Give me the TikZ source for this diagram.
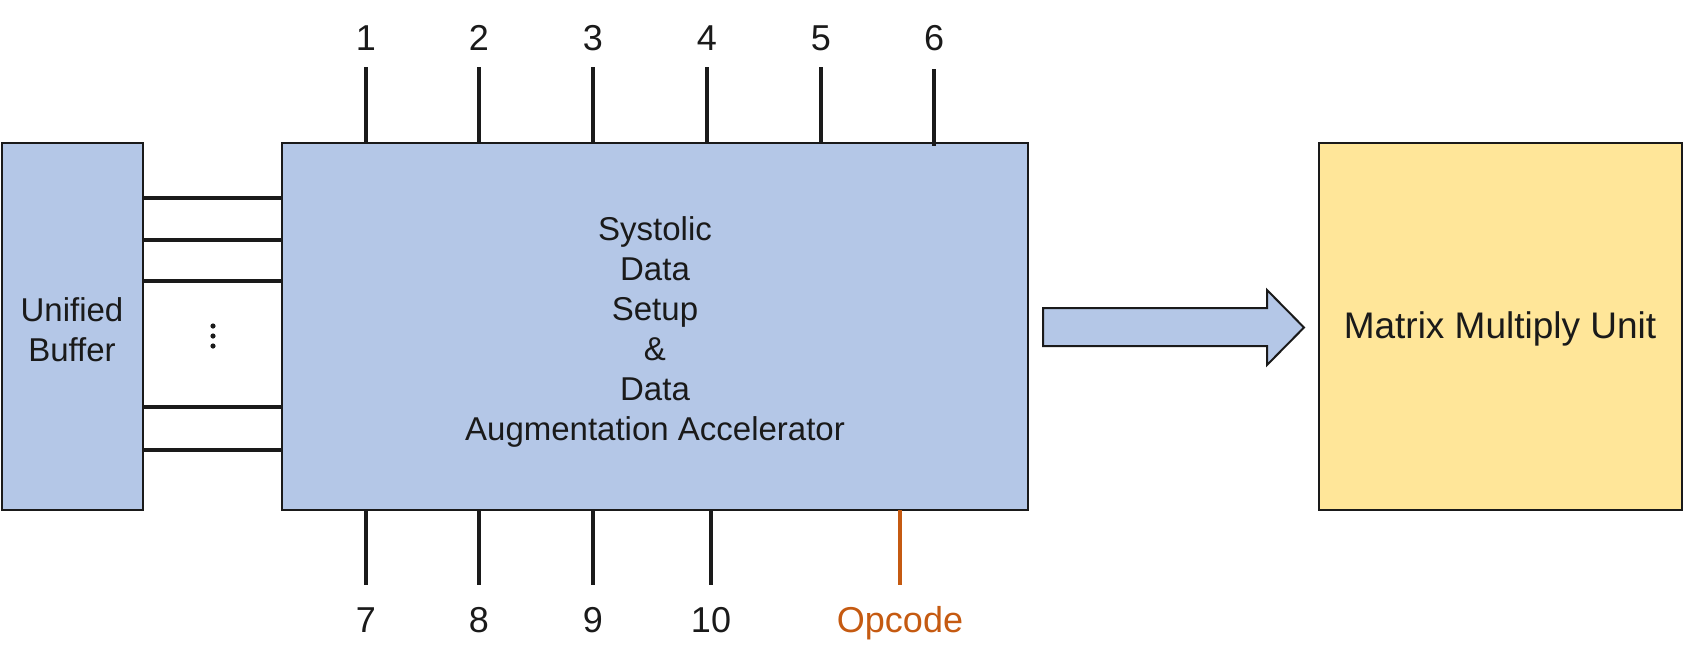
\documentclass[tikz,border=0pt]{standalone}
\usepackage{fontspec}
\setmainfont{Liberation Sans}
\definecolor{boxblue}{HTML}{B4C7E7}
\definecolor{boxyellow}{HTML}{FFE699}
\definecolor{opc}{HTML}{C55A11}
\definecolor{ink}{HTML}{1A1A1A}
\begin{document}
\begin{tikzpicture}[x=1pt,y=-1pt,
  blk/.style={draw=ink, line width=2.2pt, inner sep=0pt, outer sep=0pt},
  wire/.style={line width=3.5pt, draw=ink},
  lbl/.style={font=\fontsize{36}{40}\selectfont, inner sep=0pt, anchor=base, text=ink},
  body/.style={font=\fontsize{33}{40}\selectfont, inner sep=0pt, align=center, text=ink},
]
\useasboundingbox (0,0) rectangle (1684,664);
% blocks
\node[blk, fill=boxblue, minimum width=141pt, minimum height=367pt] (ub) at (72.5,326.5) {};
\node[blk, fill=boxblue, minimum width=746pt, minimum height=367pt] (main) at (655,326.5) {};
\node[blk, fill=boxyellow, minimum width=363pt, minimum height=367pt] (mmu) at (1500.5,326.5) {};
\node[body] (ubt) at (72,330) {Unified\\Buffer};
\node[body] (maint) at (655,332) {Systolic\\Data\\Setup\\\&\\Data\\Augmentation Accelerator};
\node[body, font=\fontsize{37}{40}\selectfont] (mmut) at (1500,329) {Matrix Multiply Unit};
% buffer wires
\foreach \y in {198,240,281,407,450}
  \draw[wire] (ub.east |- 0,\y) -- (main.west |- 0,\y);
\foreach \y [count=\i] in {326,336,346}
  \fill[ink] (213,\y) circle (2.6pt) node (dot\i) {};
% top pins
\foreach \x/\t in {366/1,479/2,593/3,707/4,821/5}{
  \node[lbl] (top\t) at (\x,50) {\t};
  \coordinate (tp\t) at (\x,67);
  \draw[wire] (tp\t) -- (main.north -| tp\t);
}
\node[lbl] (top6) at (934,50) {6};
\coordinate (tp6) at (934,69);
\draw[wire] (tp6) -- ([yshift=-3pt]main.north -| tp6);
% bottom pins
\foreach \x/\t in {366/7,479/8,593/9,711/10}{
  \node[lbl] (bot\t) at (\x,632) {\t};
  \coordinate (bp\t) at (\x,585);
  \draw[wire] (main.south -| bp\t) -- (bp\t);
}
\node[lbl, text=opc] (opcode) at (900,632) {Opcode};
\coordinate (bpo) at (900,585);
\draw[wire, draw=opc] (main.south -| bpo) -- (bpo);
% block arrow
\draw[fill=boxblue, draw=ink, line width=2pt, line join=miter]
  (1043,308) -- (1267,308) -- (1267,290) -- (1304,327.5) -- (1267,365) -- (1267,346) -- (1043,346) -- cycle;
\end{tikzpicture}
\end{document}
